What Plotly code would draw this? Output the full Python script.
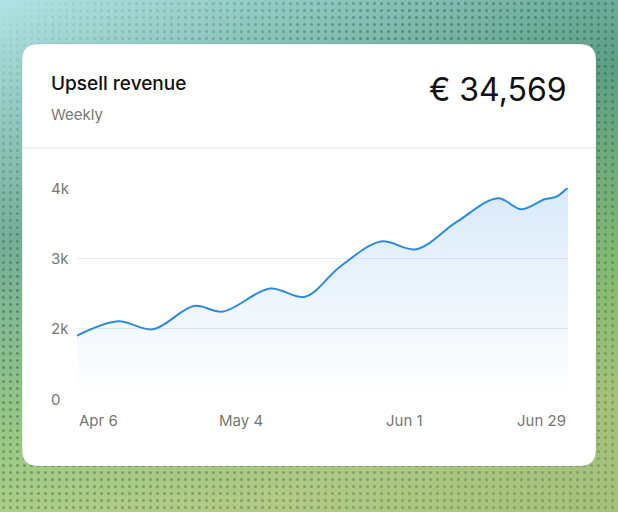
import base64

import plotly.graph_objs as go

W, H = 618, 512

# values (turning points), weekly revenue in EUR
dates = [
    "2025-04-06", "2025-04-13", "2025-04-19", "2025-04-26", "2025-05-01",
    "2025-05-09", "2025-05-15", "2025-05-21", "2025-05-28", "2025-06-03",
    "2025-06-10", "2025-06-17", "2025-06-21", "2025-06-25", "2025-06-27",
    "2025-06-29",
]
revenue = [
    1900, 2105, 1991, 2322, 2244,
    2571, 2455, 2881, 3239, 3129,
    3521, 3854, 3697, 3840, 3876,
    4010,
]

x_tick_dates = ["2025-04-06", "2025-05-04", "2025-06-01", "2025-06-29"]
x_tick_text = ["Apr 6", "May 4", "Jun 1", "Jun 29"]
y_tick_vals = [1000, 2000, 3000, 4000]
y_tick_text = ["0", "2k", "3k", "4k"]

title = "Upsell revenue"
subtitle = "Weekly"
total_text = "€ 34,569"

LINE = "#2d8ae4"
FONT = "Inter, Roboto, sans-serif"


def px(x):
    return x / W


def py(y):
    return 1 - y / H


def rounded_rect(x0, y0, x1, y1, r):
    # path in paper coords from pixel corners
    rx, ry = r / W, r / H
    a, b, c, d = px(x0), py(y0), px(x1), py(y1)
    return (
        f"M {a + rx},{b} L {c - rx},{b} Q {c},{b} {c},{b - ry} "
        f"L {c},{d + ry} Q {c},{d} {c - rx},{d} "
        f"L {a + rx},{d} Q {a},{d} {a},{d + ry} "
        f"L {a},{b - ry} Q {a},{b} {a + rx},{b} Z"
    )


# soft gradient backdrop with halftone dots
svg = f"""<svg xmlns="http://www.w3.org/2000/svg" width="{W}" height="{H}">
<defs>
<linearGradient id="g" x1="0" y1="0" x2="0.35" y2="1">
<stop offset="0" stop-color="#a6dfe2"/>
<stop offset="0.42" stop-color="#62a38c"/>
<stop offset="0.78" stop-color="#8ec273"/>
<stop offset="1" stop-color="#b3ca7e"/>
</linearGradient>
<linearGradient id="h" x1="0" y1="0" x2="1" y2="0">
<stop offset="0" stop-color="#ffffff" stop-opacity="0.12"/>
<stop offset="1" stop-color="#3c7a5e" stop-opacity="0.12"/>
</linearGradient>
<linearGradient id="mg" x1="0" y1="0" x2="0.8" y2="1">
<stop offset="0" stop-color="#000"/>
<stop offset="0.35" stop-color="#fff"/>
<stop offset="1" stop-color="#aaa"/>
</linearGradient>
<mask id="m"><rect width="{W}" height="{H}" fill="url(#mg)"/></mask>
<pattern id="p" width="7" height="7" patternUnits="userSpaceOnUse">
<circle cx="3.5" cy="3.5" r="1.5" fill="#1d5536" fill-opacity="0.45"/>
</pattern>
</defs>
<rect width="{W}" height="{H}" fill="url(#g)"/>
<rect width="{W}" height="{H}" fill="url(#h)"/>
<rect width="{W}" height="{H}" fill="url(#p)" mask="url(#m)"/>
</svg>"""
bg_src = "data:image/svg+xml;base64," + base64.b64encode(svg.encode()).decode()

fig = go.Figure()

fig.add_trace(
    go.Scatter(
        x=dates,
        y=revenue,
        mode="lines",
        line=dict(color=LINE, width=2, shape="spline", smoothing=1),
        fill="tozeroy",
        fillgradient=dict(
            type="vertical",
            colorscale=[[0, "rgba(45,138,228,0)"], [1, "rgba(45,138,228,0.18)"]],
            start=1000,
            stop=4000,
        ),
        cliponaxis=False,
        hoverinfo="skip",
    )
)

fig.update_layout(
    width=W,
    height=H,
    margin=dict(l=0, r=0, t=0, b=0),
    paper_bgcolor="#7fb89c",
    plot_bgcolor="white",
    showlegend=False,
    font=dict(family=FONT),
    images=[
        dict(
            source=bg_src, xref="paper", yref="paper", x=0, y=1,
            sizex=1, sizey=1, sizing="stretch", xanchor="left", yanchor="top",
            layer="below",
        )
    ],
    xaxis=dict(
        type="date",
        domain=[px(77), px(568)],
        range=[dates[0], dates[-1]],
        showgrid=False,
        zeroline=False,
        showticklabels=False,
        ticks="",
    ),
    yaxis=dict(
        domain=[py(399), py(188)],
        range=[1000, 4000],
        tickvals=y_tick_vals,
        showticklabels=False,
        gridcolor="#ebebee",
        gridwidth=1,
        zeroline=False,
        ticks="",
    ),
)

# card + header divider
fig.add_shape(
    type="path", path=rounded_rect(22, 44, 596, 466, 16),
    xref="paper", yref="paper", fillcolor="white",
    line=dict(color="rgba(0,0,0,0.10)", width=1), layer="below",
)
fig.add_shape(
    type="line", xref="paper", yref="paper",
    x0=px(22), x1=px(596), y0=py(148), y1=py(148),
    line=dict(color="#e4e4e6", width=1), layer="below",
)

fig.add_annotation(
    text=title, xref="paper", yref="paper", x=px(49), y=py(83),
    xanchor="left", yanchor="middle", showarrow=False,
    font=dict(size=19, color="#111111", family=FONT, weight=500),
)
fig.add_annotation(
    text=subtitle, xref="paper", yref="paper", x=px(49), y=py(114),
    xanchor="left", yanchor="middle", showarrow=False,
    font=dict(size=15, color="#777777", family=FONT),
)
fig.add_annotation(
    text=total_text, xref="paper", yref="paper", x=px(569), y=py(89),
    xanchor="right", yanchor="middle", showarrow=False,
    font=dict(size=32, color="#111111", family=FONT),
)

# y labels, left aligned like the card design
for val, lab in zip(y_tick_vals, y_tick_text):
    fig.add_annotation(
        text=lab, xref="paper", yref="y", x=px(49), y=val,
        xanchor="left", yanchor="middle", showarrow=False,
        font=dict(size=15, color="#777777", family=FONT),
    )

# x labels: first left-aligned, last right-aligned
anchors = ["left"] + ["center"] * (len(x_tick_dates) - 2) + ["right"]
for d, lab, anc in zip(x_tick_dates, x_tick_text, anchors):
    fig.add_annotation(
        text=lab, xref="x", yref="paper", x=d, y=py(420),
        xanchor=anc, yanchor="middle", showarrow=False,
        font=dict(size=15, color="#777777", family=FONT),
    )

fig.write_html(
    "out.html",
    config={"displayModeBar": False},
    post_script="document.body.style.margin='0';",
)
